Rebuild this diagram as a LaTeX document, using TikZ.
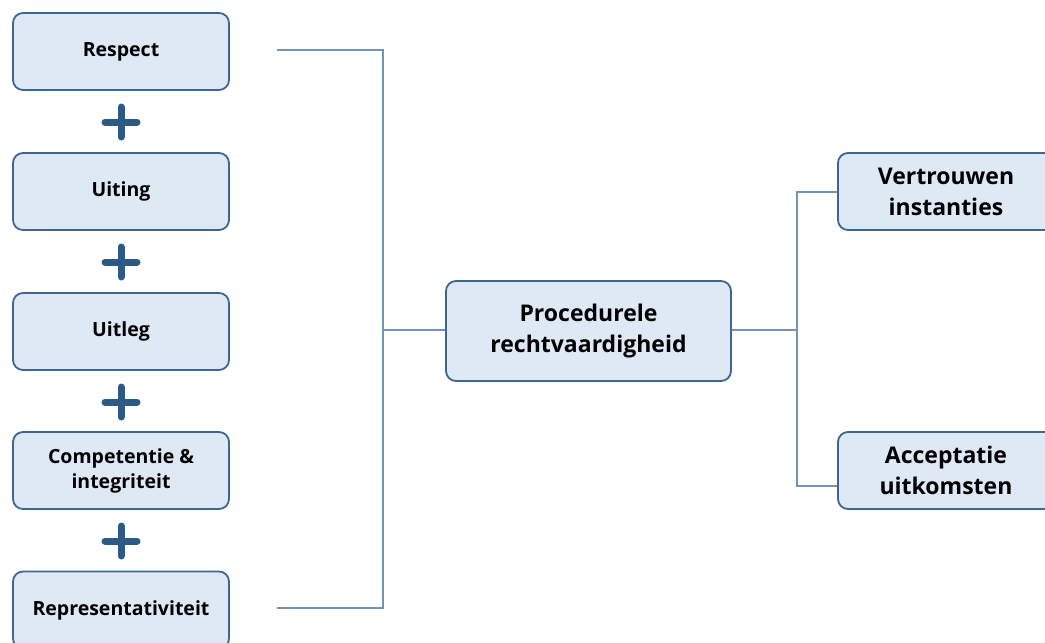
\documentclass[tikz,border=0pt]{standalone}
\usepackage{fontspec}
\setmainfont{Open Sans}
\definecolor{boxfill}{HTML}{DEE9F5}
\definecolor{boxline}{HTML}{3D6790}
\definecolor{conn}{HTML}{7393B4}
\definecolor{plusc}{HTML}{2D5A85}
\begin{document}
\begin{tikzpicture}[x=1pt,y=-1pt,
  box/.style={draw=boxline, fill=boxfill, line width=1.8pt, rounded corners=10pt,
    minimum width=216pt, minimum height=77pt, align=center, inner sep=2pt,
    font=\fontsize{19.5}{25}\selectfont\bfseries},
  bigbox/.style={box, font=\fontsize{23}{31}\selectfont\bfseries},
  plus/.style={minimum width=40pt, minimum height=38pt, inner sep=0pt,
    path picture={\draw[plusc, line width=7pt, line cap=round]
      ([xshift=4pt]path picture bounding box.west) -- ([xshift=-4pt]path picture bounding box.east)
      ([yshift=-4pt]path picture bounding box.north) -- ([yshift=4pt]path picture bounding box.south);}},
  link/.style={draw=conn, line width=1.5pt}]
\useasboundingbox (0,0) rectangle (1045,643);
\node[box] (respect) at (121,51.5) {Respect};
\node[box] (uiting) at (121,191.5) {Uiting};
\node[box] (uitleg) at (121,331.5) {Uitleg};
\node[box] (comp) at (121,470.5) {Competentie \&\\integriteit};
\node[box] (repr) at (121,610) {Representativiteit};
\node[plus] (p1) at (121,122) {};
\node[plus] (p2) at (121,262) {};
\node[plus] (p3) at (121,402) {};
\node[plus] (p4) at (121,541) {};
\node[bigbox, minimum width=285pt, minimum height=100pt] (proc) at (588.5,331) {Procedurele\\rechtvaardigheid};
\node[bigbox] (vert) at (946,191.5) {Vertrouwen\\instanties};
\node[bigbox] (acc) at (946,470.5) {Acceptatie\\uitkomsten};
\coordinate (b1) at (277,50);
\coordinate (b2) at (277,608);
\coordinate (bm) at (383,330);
\coordinate (rm) at (797,330);
\draw[link] (b1) -- (383,50) -- (383,608) -- (b2);
\draw[link] (bm) -- (proc.west |- bm);
\draw[link] (proc.east |- rm) -- (rm);
\draw[link] (vert.west |- 0,192) -- (797,192) -- (797,486) -- (acc.west |- 0,486);
\end{tikzpicture}
\end{document}
